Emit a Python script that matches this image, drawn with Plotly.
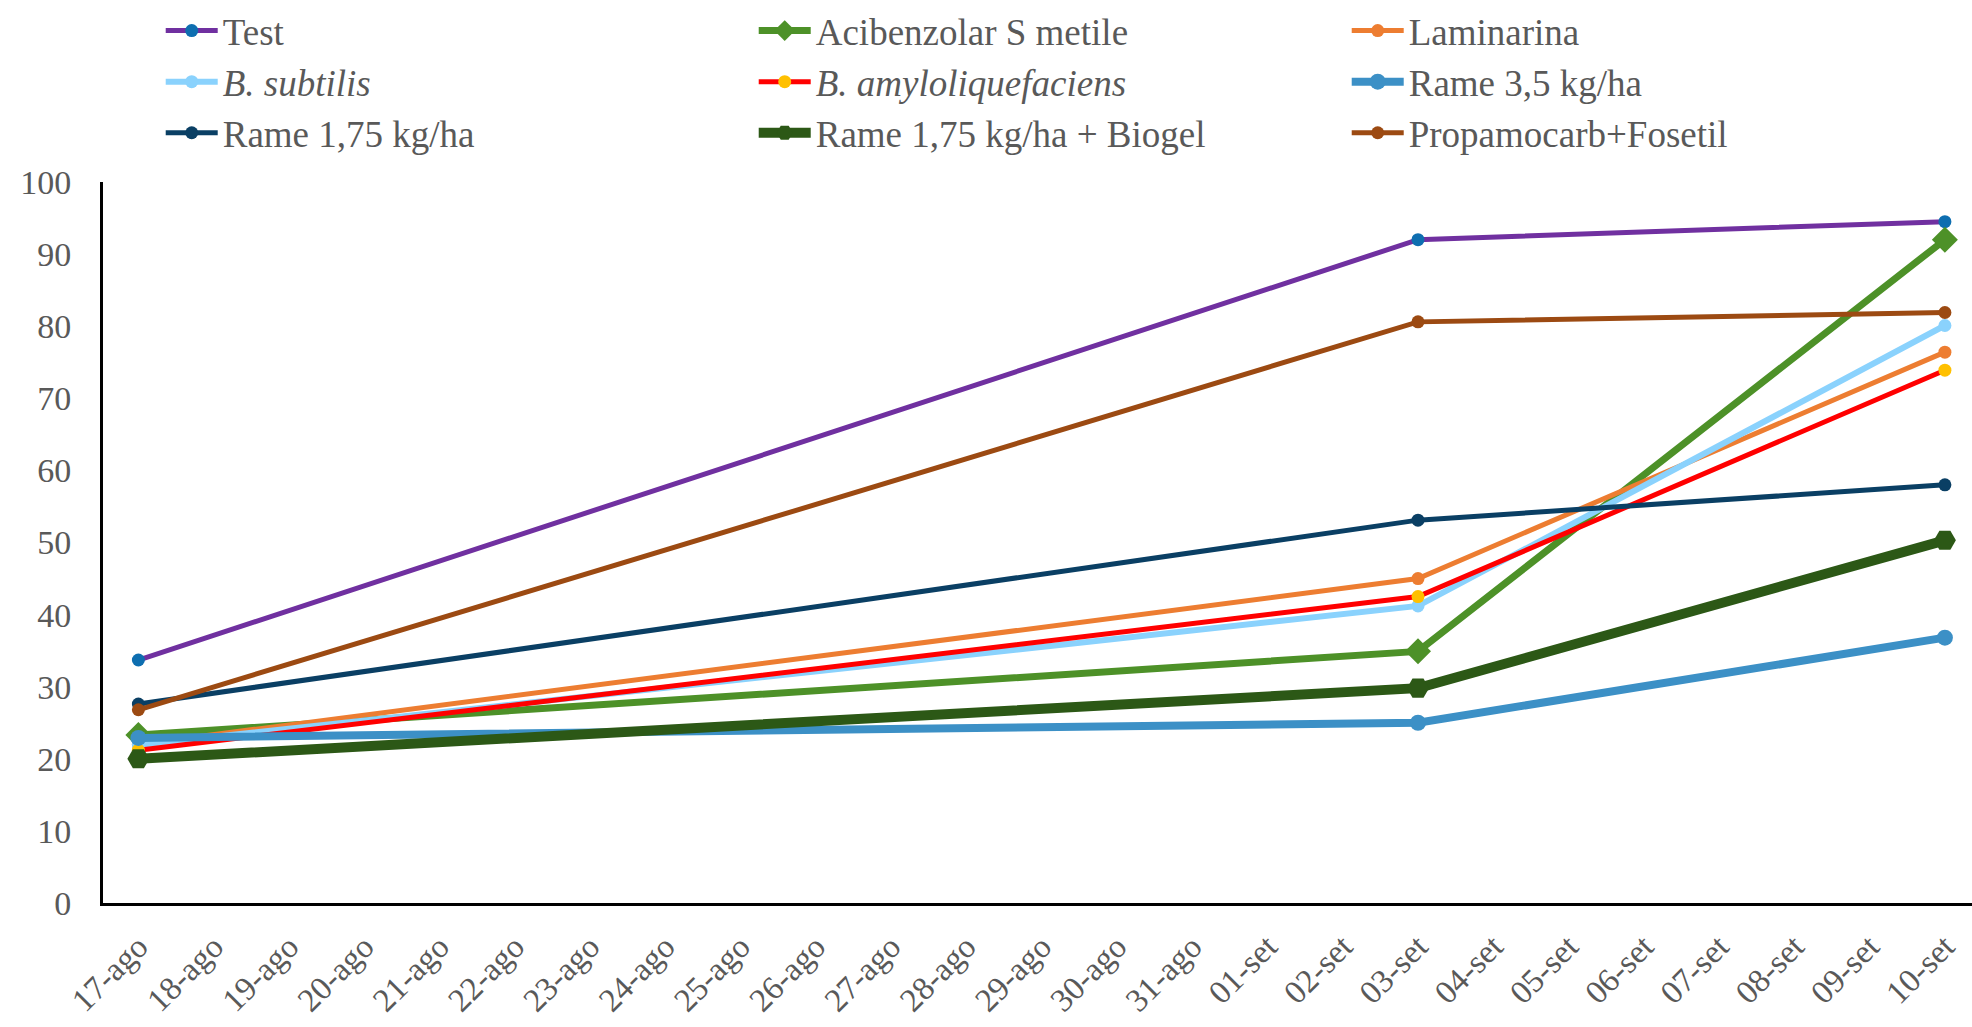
import plotly.graph_objects as go

# Daily category labels on the x axis
dates = ["17-ago", "18-ago", "19-ago", "20-ago", "21-ago", "22-ago", "23-ago",
         "24-ago", "25-ago", "26-ago", "27-ago", "28-ago", "29-ago", "30-ago",
         "31-ago", "01-set", "02-set", "03-set", "04-set", "05-set", "06-set",
         "07-set", "08-set", "09-set", "10-set"]

# Survey dates
survey = ["17-ago", "03-set", "10-set"]

# Values per treatment at the survey dates
test = [33.7, 92.0, 94.5]
acibenzolar = [23.3, 34.9, 92.0]
laminarina = [22.0, 45.0, 76.4]
b_subtilis = [21.9, 41.2, 80.1]
b_amylo = [21.2, 42.5, 73.9]
rame_35 = [22.9, 25.0, 36.8]
rame_175 = [27.6, 53.1, 58.0]
rame_175_biogel = [20.0, 29.8, 50.3]
propamocarb = [26.8, 80.6, 81.9]

series = [
    ("Test", test, "#7030A0", 5, "circle", "#0E6EB0", 13),
    ("Acibenzolar S metile", acibenzolar, "#4D9128", 7, "diamond", "#4D9128", 20),
    ("Laminarina", laminarina, "#ED7D31", 5, "circle", "#ED7D31", 13),
    ("<i>B. subtilis</i>", b_subtilis, "#8AD2FD", 6, "circle", "#8AD2FD", 13),
    ("<i>B. amyloliquefaciens</i>", b_amylo, "#FF0000", 5, "circle", "#FFC000", 13),
    ("Rame 3,5 kg/ha", rame_35, "#3C90C6", 8, "circle", "#3C90C6", 16),
    ("Rame 1,75 kg/ha", rame_175, "#0A3F64", 5, "circle", "#0A3F64", 13),
    ("Rame 1,75 kg/ha + Biogel", rame_175_biogel, "#2C5816", 10, "hexagon2", "#2C5816", 22),
    ("Propamocarb+Fosetil", propamocarb, "#9C4A12", 5, "circle", "#9C4A12", 13),
]

fig = go.Figure()
for name, vals, lcol, lw, sym, mcol, ms in series:
    fig.add_trace(go.Scatter(
        x=survey, y=vals, name=name, mode="lines+markers",
        line=dict(color=lcol, width=lw),
        marker=dict(symbol=sym, color=mcol, size=ms, line=dict(width=0)),
    ))

serif = "Liberation Serif, Times New Roman, serif"
fig.update_layout(
    width=1972, height=1027,
    paper_bgcolor="white", plot_bgcolor="white",
    margin=dict(l=103, r=0, t=182, b=124, autoexpand=False),
    font=dict(family=serif, color="#595959"),
    showlegend=True,
    legend=dict(
        orientation="h", xref="container", yref="container",
        x=0.0815, y=1.0, xanchor="left", yanchor="top",
        entrywidth=526, entrywidthmode="pixels",
        font=dict(family=serif, size=37, color="#595959"),
        itemwidth=52, tracegroupgap=0,
        bgcolor="rgba(0,0,0,0)",
    ),
    xaxis=dict(
        type="category", categoryorder="array", categoryarray=dates,
        tickvals=dates, ticktext=dates,
        range=[-0.47, 24.36],
        showgrid=False, zeroline=False,
        showline=True, linecolor="black", linewidth=3,
        ticks="outside", ticklen=8, tickcolor="rgba(0,0,0,0)",
        tickangle=-45, tickfont=dict(family=serif, size=33, color="#595959"),
    ),
    yaxis=dict(
        range=[0, 100], dtick=10,
        showgrid=False, zeroline=False,
        showline=True, linecolor="black", linewidth=3,
        ticks="outside", ticklen=22, tickcolor="rgba(0,0,0,0)",
        tickfont=dict(family=serif, size=34, color="#595959"),
    ),
)

fig.write_html("out.html")
